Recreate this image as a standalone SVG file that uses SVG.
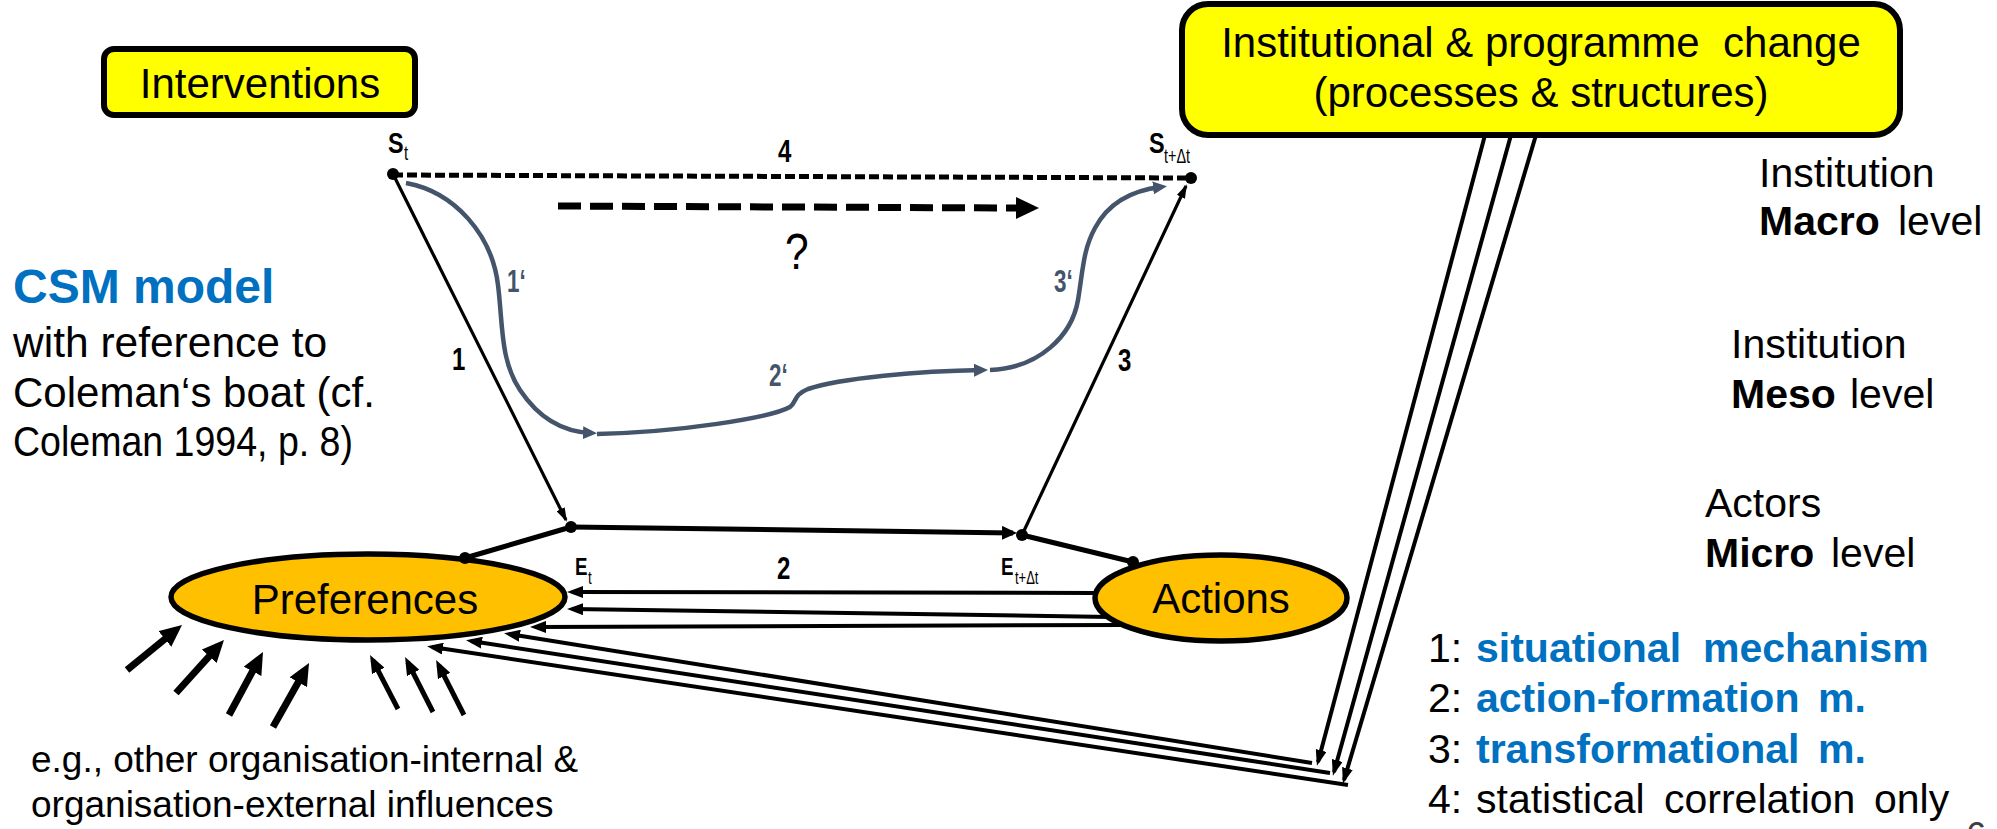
<svg xmlns="http://www.w3.org/2000/svg" width="1997" height="829" viewBox="0 0 1997 829">
<style>
text{font-family:"Liberation Sans",Arial,sans-serif;fill:#000}
.box{fill:#FFFF00;stroke:#000;stroke-width:6}
.ell{fill:#FFC000;stroke:#000;stroke-width:5.5}
.lbl{font-size:42px}
.side{font-size:41px}
.blue{fill:#0070C0;font-weight:bold}
.b{font-weight:bold}
.num{font-size:32px;font-weight:bold}
.gray{fill:#44546A}
.thin{fill:none;stroke:#000;stroke-width:3.2}
.mid{fill:none;stroke:#000;stroke-width:4}
.thick{fill:none;stroke:#000;stroke-width:5}
.curve{fill:none;stroke:#44546A;stroke-width:4.5}
.dot{fill:#000}
</style>
<defs>
<marker id="ahThick" markerUnits="userSpaceOnUse" markerWidth="22" markerHeight="20" refX="14" refY="10" orient="auto"><path d="M0,0 L22,10 L0,20 z" fill="#000"/></marker>
<marker id="ahMedB" markerUnits="userSpaceOnUse" markerWidth="18" markerHeight="14" refX="12" refY="7" orient="auto"><path d="M0,0 L18,7 L0,14 z" fill="#000"/></marker>
<marker id="ahPref" markerUnits="userSpaceOnUse" markerWidth="16" markerHeight="12" refX="11" refY="6" orient="auto"><path d="M0,0 L16,6 L0,12 z" fill="#000"/></marker>
<marker id="ahInst" markerUnits="userSpaceOnUse" markerWidth="16" markerHeight="11" refX="12" refY="5.5" orient="auto"><path d="M0,0 L16,5.5 L0,11 z" fill="#000"/></marker>
<marker id="ahThin" markerUnits="userSpaceOnUse" markerWidth="14" markerHeight="9" refX="12" refY="4.5" orient="auto"><path d="M0,0 L14,4.5 L0,9 z" fill="#000"/></marker>
<marker id="ahTwo" markerUnits="userSpaceOnUse" markerWidth="15" markerHeight="14" refX="11" refY="7" orient="auto"><path d="M0,0 L15,7 L0,14 z" fill="#000"/></marker>
<marker id="ahGray" markerUnits="userSpaceOnUse" markerWidth="14" markerHeight="13" refX="8" refY="6.5" orient="auto"><path d="M0,0 L14,6.5 L0,13 z" fill="#44546A"/></marker>
<marker id="ahBig" markerUnits="userSpaceOnUse" markerWidth="23" markerHeight="22" refX="0" refY="11" orient="auto"><path d="M0,0 L23,11 L0,22 z" fill="#000"/></marker>
</defs>

<g id="connectors">
  <!-- 4: statistical correlation -->
  <path d="M393,175 L1191,178" fill="none" stroke="#000" stroke-width="5" stroke-dasharray="10 4"/>
  <path d="M558,206 L1016,208" fill="none" stroke="#000" stroke-width="7" stroke-dasharray="23 9" marker-end="url(#ahBig)"/>
  <!-- 1, 2, 3 -->
  <path class="thin" d="M393,174 L566,520" marker-end="url(#ahThin)"/>
  <path class="thick" d="M571,527 L1013,533" marker-end="url(#ahTwo)"/>
  <path class="thin" d="M1022,535 L1186,186" marker-end="url(#ahThin)"/>
  <path class="thick" d="M465,558 L571,527"/>
  <path class="thick" d="M1022,535 L1133,562"/>
  <!-- gray 1' 2' 3' -->
  <path class="curve" d="M406,183 C455,192 492,235 498,285 C503,325 500,360 520,390 C540,420 565,432 591,433" marker-end="url(#ahGray)"/>
  <path class="curve" d="M597,434 C680,432 770,418 790,407 C797,402 793,395 808,389 C840,378 920,371 982,370" marker-end="url(#ahGray)"/>
  <path class="curve" d="M990,370 C1040,368 1072,335 1078,300 C1083,270 1083,250 1095,228 C1110,200 1135,190 1161,187" marker-end="url(#ahGray)"/>
  <!-- Actions back to Preferences -->
  <path class="mid" d="M1095,593 L572,592" marker-end="url(#ahPref)"/>
  <path class="mid" d="M1111,617 L572,609" marker-end="url(#ahPref)"/>
  <path class="mid" d="M1124,625 L535,627" marker-end="url(#ahPref)"/>
  <!-- Institutional change down to corner and back to Preferences -->
  <path class="mid" d="M1485,135 L1318,762" marker-end="url(#ahInst)"/>
  <path class="mid" d="M1511,135 L1334,772" marker-end="url(#ahInst)"/>
  <path class="mid" d="M1536,135 L1344,780" marker-end="url(#ahInst)"/>
  <path class="mid" d="M1312,763 L509,634" marker-end="url(#ahPref)"/>
  <path class="mid" d="M1330,773 L471,641" marker-end="url(#ahPref)"/>
  <path class="mid" d="M1348,785 L432,647" marker-end="url(#ahPref)"/>
  <!-- external influences -->
  <g stroke="#000" stroke-width="7" fill="none">
    <path d="M127,670 L175.8,630.1" marker-end="url(#ahThick)"/>
    <path d="M176,693 L218.6,645.9" marker-end="url(#ahThick)"/>
    <path d="M229,715 L259.2,659" marker-end="url(#ahThick)"/>
    <path d="M273,727 L305.1,670" marker-end="url(#ahThick)"/>
  </g>
  <g stroke="#000" stroke-width="5" fill="none">
    <path d="M398,709 L372.8,660.3" marker-end="url(#ahMedB)"/>
    <path d="M433,712 L407.8,662.3" marker-end="url(#ahMedB)"/>
    <path d="M464,715 L438.8,665.3" marker-end="url(#ahMedB)"/>
  </g>
</g>

<g id="node-interventions">
  <rect class="box" x="104" y="49" width="311" height="66" rx="10"/>
  <text class="lbl" x="260" y="98" text-anchor="middle">Interventions</text>
</g>

<g id="node-institutional">
  <rect class="box" x="1182" y="4" width="718" height="131" rx="26"/>
  <text class="lbl" x="1541" y="57" text-anchor="middle" xml:space="preserve">Institutional &amp; programme  change</text>
  <text class="lbl" x="1541" y="107" text-anchor="middle">(processes &amp; structures)</text>
</g>

<g id="node-preferences">
  <ellipse class="ell" cx="368" cy="597" rx="197" ry="43"/>
  <text class="lbl" x="365" y="614" text-anchor="middle">Preferences</text>
</g>

<g id="node-actions">
  <ellipse class="ell" cx="1221" cy="598" rx="126" ry="43"/>
  <text class="lbl" x="1221" y="613" text-anchor="middle">Actions</text>
</g>

<g id="node-St">
  <circle class="dot" cx="393" cy="174" r="6"/>
  <text class="b" font-size="30" transform="translate(388,153) scale(0.78,1)">S</text>
  <text font-size="20" transform="translate(404,160) scale(0.75,1)">t</text>
</g>
<g id="node-StDt">
  <circle class="dot" cx="1191" cy="178" r="6"/>
  <text class="b" font-size="30" transform="translate(1149,153) scale(0.78,1)">S</text>
  <text font-size="20" transform="translate(1164,163) scale(0.72,1)">t+Δt</text>
</g>
<g id="node-Et">
  <circle class="dot" cx="571" cy="527" r="6"/>
  <circle class="dot" cx="465" cy="558" r="6"/>
  <text class="b" font-size="24" transform="translate(575,575) scale(0.78,1)">E</text>
  <text font-size="18" transform="translate(588,584) scale(0.75,1)">t</text>
</g>
<g id="node-EtDt">
  <circle class="dot" cx="1022" cy="535" r="6"/>
  <circle class="dot" cx="1133" cy="562" r="6"/>
  <text class="b" font-size="24" transform="translate(1001,575) scale(0.78,1)">E</text>
  <text font-size="18" transform="translate(1015,584) scale(0.72,1)">t+Δt</text>
</g>

<g id="labels">
  <text class="num" transform="translate(778,162) scale(0.75,1)">4</text>
  <text class="num" transform="translate(452,370) scale(0.75,1)">1</text>
  <text class="num" transform="translate(1118,371) scale(0.75,1)">3</text>
  <text class="num" transform="translate(777,579) scale(0.75,1)">2</text>
  <text class="num gray" transform="translate(507,292) scale(0.7,1)">1‘</text>
  <text class="num gray" transform="translate(1054,292) scale(0.7,1)">3‘</text>
  <text class="num gray" font-size="33" transform="translate(769,386) scale(0.7,1)">2‘</text>
  <text font-size="50" transform="translate(785,269) scale(0.85,1)">?</text>
</g>

<g id="caption-left">
  <text class="blue" font-size="48" x="13" y="303">CSM model</text>
  <text font-size="42.5" x="13" y="357">with reference to</text>
  <text font-size="42" x="13" y="407">Coleman‘s boat (cf.</text>
  <text font-size="42" x="13" y="456" textLength="340" lengthAdjust="spacingAndGlyphs">Coleman 1994, p. 8)</text>
</g>

<g id="caption-bottom">
  <text font-size="37" x="31" y="772">e.g., other organisation-internal &amp;</text>
  <text font-size="37" x="31" y="817">organisation-external influences</text>
</g>

<g id="levels">
  <text class="side" x="1759" y="187">Institution</text>
  <text class="side" x="1759" y="235"><tspan class="b">Macro</tspan><tspan x="1898">level</tspan></text>
  <text class="side" x="1731" y="358">Institution</text>
  <text class="side" x="1731" y="408"><tspan class="b">Meso</tspan><tspan x="1850">level</tspan></text>
  <text class="side" x="1705" y="517">Actors</text>
  <text class="side" x="1705" y="567"><tspan class="b">Micro</tspan><tspan x="1831">level</tspan></text>
</g>

<g id="legend">
  <text class="side" x="1428" y="662">1: <tspan class="blue" x="1476">situational</tspan><tspan class="blue" x="1703">mechanism</tspan></text>
  <text class="side" x="1428" y="712">2: <tspan class="blue" x="1476">action-formation</tspan><tspan class="blue" x="1818">m.</tspan></text>
  <text class="side" x="1428" y="763">3: <tspan class="blue" x="1476">transformational</tspan><tspan class="blue" x="1818">m.</tspan></text>
  <text class="side" x="1428" y="813">4: <tspan x="1476">statistical</tspan><tspan x="1664">correlation</tspan><tspan x="1874">only</tspan></text>
</g>

<text font-size="36" x="1966" y="848" style="fill:#404040">6</text>
</svg>
